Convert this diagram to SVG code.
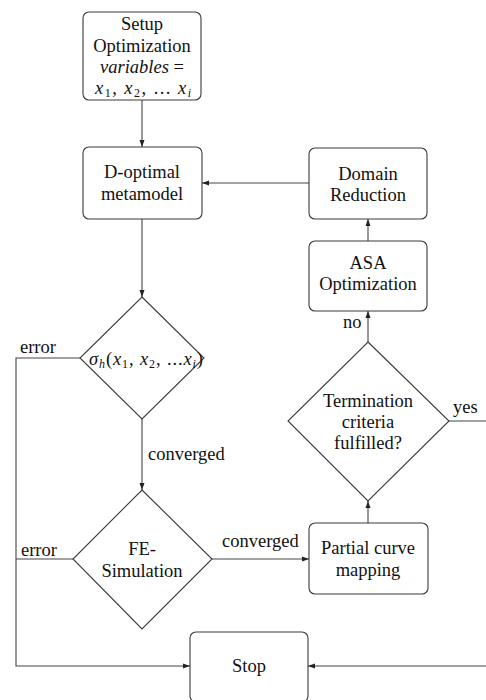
<svg xmlns="http://www.w3.org/2000/svg" width="486" height="700" viewBox="0 0 486 700">
<style>
.box{fill:#fff;stroke:#3a3a3a;stroke-width:1.1}
.t{font-family:"Liberation Serif","Times New Roman",serif;font-size:18.5px;fill:#111;text-anchor:middle}
.l{font-family:"Liberation Serif","Times New Roman",serif;font-size:18.5px;fill:#111}
.c{fill:none;stroke:#444;stroke-width:1.1}
.i{font-style:italic}
</style>
<defs>
<marker id="ah" markerUnits="userSpaceOnUse" markerWidth="7" markerHeight="6" refX="7" refY="3" orient="auto">
<path d="M0,0.5 L7,3 L0,5.5 z" fill="#222"/>
</marker>
</defs>
<rect width="486" height="700" fill="#fff"/>
<g id="connectors">
<path class="c" d="M142,100 V147" marker-end="url(#ah)"/>
<path class="c" d="M309,183 H202" marker-end="url(#ah)"/>
<path class="c" d="M142,219 V297" marker-end="url(#ah)"/>
<path class="c" d="M80,358 H16 V666 H190" marker-end="url(#ah)"/>
<path class="c" d="M142,419 V490" marker-end="url(#ah)"/>
<path class="c" d="M73,559 H16"/>
<path class="c" d="M212,559 H309" marker-end="url(#ah)"/>
<path class="c" d="M368,523 V501" marker-end="url(#ah)"/>
<path class="c" d="M368,342 V311" marker-end="url(#ah)"/>
<path class="c" d="M368,241 V219" marker-end="url(#ah)"/>
<path class="c" d="M449,421 H492 V666 H308" marker-end="url(#ah)"/>
<text class="l" x="20" y="353">error</text>
<text class="l" x="21" y="556">error</text>
<text class="l" x="148" y="460">converged</text>
<text class="l" x="222" y="547">converged</text>
<text class="l" x="343" y="328">no</text>
<text class="l" x="453" y="413">yes</text>
</g>
<g id="setup">
<rect class="box" x="83" y="12" width="118" height="88" rx="6"/>
<text class="t" x="142" y="30">Setup</text>
<text class="t" x="142" y="52">Optimization</text>
<text class="t" x="142" y="73"><tspan class="i">variables</tspan> =</text>
<text class="t" x="143" y="94" textLength="96" lengthAdjust="spacing"><tspan class="i">x</tspan><tspan font-size="12" dy="3">1</tspan><tspan dy="-3">, </tspan><tspan class="i">x</tspan><tspan font-size="12" dy="3">2</tspan><tspan dy="-3">, ... </tspan><tspan class="i">x</tspan><tspan class="i" font-size="12" dy="3">i</tspan></text>
</g>
<g id="doptimal">
<rect class="box" x="83" y="147" width="119" height="72" rx="6"/>
<text class="t" x="142" y="178">D-optimal</text>
<text class="t" x="142" y="200">metamodel</text>
</g>
<g id="domain">
<rect class="box" x="309" y="148" width="118" height="71" rx="6"/>
<text class="t" x="368" y="180">Domain</text>
<text class="t" x="368" y="201">Reduction</text>
</g>
<g id="asa">
<rect class="box" x="309" y="241" width="118" height="70" rx="6"/>
<text class="t" x="368" y="269">ASA</text>
<text class="t" x="368" y="290">Optimization</text>
</g>
<g id="sigma">
<polygon class="box" points="142,297 204,358 142,419 80,358"/>
<text class="l" x="89" y="365" textLength="114" lengthAdjust="spacing"><tspan class="i">σ</tspan><tspan class="i" font-size="12" dy="3">h</tspan><tspan dy="-3">(</tspan><tspan class="i">x</tspan><tspan font-size="12" dy="3">1</tspan><tspan dy="-3">, </tspan><tspan class="i">x</tspan><tspan font-size="12" dy="3">2</tspan><tspan dy="-3">, ...</tspan><tspan class="i">x</tspan><tspan class="i" font-size="12" dy="3">i</tspan><tspan dy="-3">)</tspan></text>
</g>
<g id="termination">
<polygon class="box" points="368,342 449,421 368,501 288,421"/>
<text class="t" x="368" y="407">Termination</text>
<text class="t" x="368" y="428">criteria</text>
<text class="t" x="368" y="449">fulfilled?</text>
</g>
<g id="fe">
<polygon class="box" points="142,490 212,559 142,629 73,559"/>
<text class="t" x="142" y="555">FE-</text>
<text class="t" x="142" y="577">Simulation</text>
</g>
<g id="partial">
<rect class="box" x="309" y="523" width="119" height="71" rx="6"/>
<text class="t" x="368" y="554">Partial curve</text>
<text class="t" x="368" y="576">mapping</text>
</g>
<g id="stop">
<rect class="box" x="190" y="632" width="118" height="70" rx="6"/>
<text class="t" x="249" y="672">Stop</text>
</g>
</svg>
